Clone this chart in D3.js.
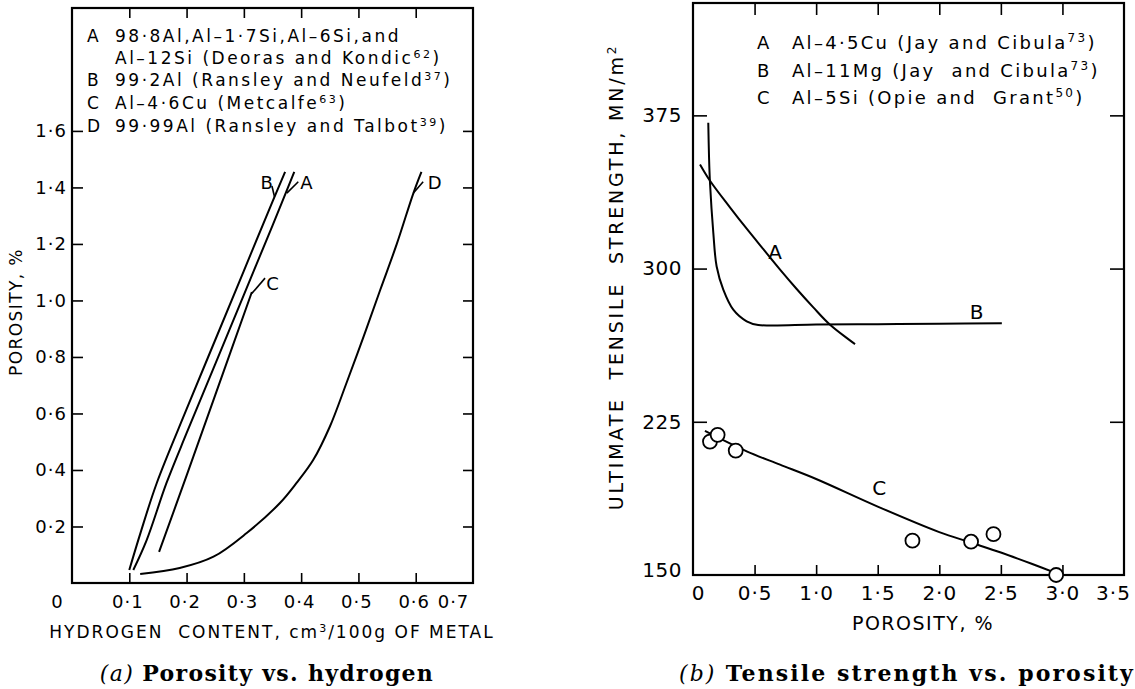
<!DOCTYPE html>
<html><head><meta charset="utf-8">
<script src="https://cdn.jsdelivr.net/npm/d3@7"></script>
<style>body{margin:0;background:#fff}</style>
</head><body>
<svg id="c" width="1135" height="689"></svg>
<script>
// ---------- Panel (a): porosity vs hydrogen ----------
const hA = [0.107, 0.130, 0.165, 0.200, 0.250, 0.300, 0.350, 0.388];
const pA = [0.046, 0.150, 0.354, 0.530, 0.775, 1.020, 1.265, 1.455];
const hB = [0.100, 0.120, 0.148, 0.200, 0.250, 0.300, 0.350, 0.372];
const pB = [0.046, 0.180, 0.354, 0.615, 0.860, 1.105, 1.350, 1.455];
const hC = [0.152, 0.200, 0.250, 0.314];
const pC = [0.110, 0.380, 0.665, 1.030];
const hD = [0.119, 0.188, 0.247, 0.305, 0.363, 0.392, 0.421, 0.450, 0.479, 0.509, 0.538, 0.567, 0.596, 0.610];
const pD = [0.032, 0.053, 0.093, 0.177, 0.283, 0.354, 0.435, 0.553, 0.707, 0.872, 1.037, 1.200, 1.380, 1.455];
const hTicks = [0, 0.1, 0.2, 0.3, 0.4, 0.5, 0.6, 0.7];
const porTicksA = [0.2, 0.4, 0.6, 0.8, 1.0, 1.2, 1.4, 1.6];
const legendA = [
  ["A", [["98·8Al,Al–1·7Si,Al–6Si,and"]]],
  ["", [["Al–12Si (Deoras and Kondic"], ["62", 1], [")"]]],
  ["B", [["99·2Al (Ransley and Neufeld"], ["37", 1], [")"]]],
  ["C", [["Al–4·6Cu (Metcalfe"], ["63", 1], [")"]]],
  ["D", [["99·99Al (Ransley and Talbot"], ["39", 1], [")"]]]
];
// curve labels: letter, label point, leader start, leader end (data units)
const labelsA = [
  ["B", [0.340, 1.415], [0.349, 1.405], [0.3535, 1.367]],
  ["A", [0.409, 1.415], [0.395, 1.420], [0.375, 1.380]],
  ["C", [0.350, 1.061], [0.337, 1.079], [0.314, 1.025]],
  ["D", [0.633, 1.415], [0.613, 1.420], [0.596, 1.380]]
];

// ---------- Panel (b): tensile strength vs porosity ----------
const porA = [0.057, 0.138, 0.300, 0.436, 0.571, 0.707, 0.842, 0.977, 1.113, 1.316];
const utsA = [351, 343, 330, 319.5, 309.5, 299.5, 290, 281, 272.5, 263];
const porB = [0.124, 0.130, 0.138, 0.165, 0.192, 0.246, 0.327, 0.436, 0.530, 1.000, 1.500, 2.000, 2.508];
const utsB = [371.4, 355, 342, 317.5, 301, 289.7, 279.9, 274.2, 272.4, 272.6, 272.8, 273.0, 273.2];
const porC = [0.097, 0.436, 0.707, 1.000, 1.500, 2.000, 2.250, 2.500, 2.750, 2.954];
const utsC = [220.5, 210.5, 204, 197, 183.5, 171, 166, 161, 155.5, 150.8];
const porPts = [0.138, 0.200, 0.347, 1.782, 2.258, 2.440, 2.949];
const utsPts = [215.3, 218.6, 210.9, 166.8, 166.3, 170.0, 150.0];
const porTicks = [0, 0.5, 1.0, 1.5, 2.0, 2.5, 3.0, 3.5];
const utsTicks = [150, 225, 300, 375];
const legendB = [
  ["A", [["Al–4·5Cu (Jay and Cibula"], ["73", 1], [")"]]],
  ["B", [["Al–11Mg (Jay  and Cibula"], ["73", 1], [")"]]],
  ["C", [["Al–5Si (Opie and  Grant"], ["50", 1], [")"]]]
];
const labelsB = [["A", [0.666, 308.2]], ["B", [2.304, 278.9]], ["C", [1.513, 192.4]]];

// ---------- drawing ----------
const svg = d3.select("#c");
const SANS = "'DejaVu Sans', sans-serif";
const SERIF = "'DejaVu Serif', serif";
const dot = d => d === 0 ? "0" : d3.format(".1f")(d).replace(".", "·");
const zip = (xs, ys) => xs.map((x, i) => [x, ys[i]]);

function richText(sel, parts, supSize) {
  parts.forEach(([t, sup]) => {
    const ts = sel.append("tspan").text(t);
    if (sup) ts.attr("font-size", supSize).attr("baseline-shift", "super");
  });
}

function styleAxis(g, fs, ls) {
  g.select(".domain").remove();
  g.selectAll(".tick line").attr("stroke", "#000").attr("stroke-width", 1.6);
  g.selectAll(".tick text").attr("fill", "#000").attr("font-family", SANS).attr("font-size", fs)
    .attr("letter-spacing", ls || 0);
}

// ===== Panel (a) =====
const xa = d3.scaleLinear().domain([0, 0.7]).range([72, 473]);
const ya = d3.scaleLinear().domain([0, 2.035]).range([583, 8]);
const ga = svg.append("g");
const inner = hTicks.filter(d => d > 0 && d < 0.7);

ga.append("g").attr("transform", "translate(0,583)")
  .call(d3.axisBottom(xa).tickValues(hTicks).tickFormat(dot).tickSizeInner(-10).tickSizeOuter(0).tickPadding(12))
  .call(g => styleAxis(g, 18, 1))
  .call(g => g.selectAll(".tick").filter(d => d === 0 || d === 0.7).select("line").remove())
  .call(g => g.selectAll(".tick text").attr("dx", d => d === 0 ? -15 : d === 0.7 ? -20 : -2));
ga.append("g").attr("transform", "translate(0,8)")
  .call(d3.axisTop(xa).tickValues(inner).tickFormat("").tickSizeInner(-10).tickSizeOuter(0))
  .call(g => styleAxis(g, 18));
ga.append("g").attr("transform", "translate(72,0)")
  .call(d3.axisLeft(ya).tickValues(porTicksA).tickFormat(dot).tickSizeInner(-11).tickSizeOuter(0).tickPadding(5))
  .call(g => styleAxis(g, 18, 1));
ga.append("g").attr("transform", "translate(473,0)")
  .call(d3.axisRight(ya).tickValues(porTicksA).tickFormat("").tickSizeInner(-10).tickSizeOuter(0))
  .call(g => styleAxis(g, 18));
ga.append("rect").attr("x", xa(0)).attr("y", ya(2.035)).attr("width", xa(0.7) - xa(0)).attr("height", ya(0) - ya(2.035))
  .attr("fill", "none").attr("stroke", "#000").attr("stroke-width", 2.2);

const lineA = d3.line().x(d => xa(d[0])).y(d => ya(d[1])).curve(d3.curveCatmullRom.alpha(0.5));
[[hA, pA], [hB, pB], [hC, pC], [hD, pD]].forEach(([xs, ys]) => {
  ga.append("path").attr("d", lineA(zip(xs, ys))).attr("fill", "none").attr("stroke", "#000").attr("stroke-width", 2);
});
labelsA.forEach(([t, p, s, e]) => {
  ga.append("line").attr("x1", xa(s[0])).attr("y1", ya(s[1])).attr("x2", xa(e[0])).attr("y2", ya(e[1]))
    .attr("stroke", "#000").attr("stroke-width", 1.6);
  ga.append("text").attr("x", xa(p[0])).attr("y", ya(p[1])).attr("dy", "0.35em").attr("text-anchor", "middle")
    .attr("font-family", SANS).attr("font-size", 18).text(t);
});
legendA.forEach(([k, parts], i) => {
  const y = [42, 64, 86, 109, 132][i];
  ga.append("text").attr("x", 87).attr("y", y).attr("font-family", SANS).attr("font-size", 17).text(k);
  const t = ga.append("text").attr("x", 115).attr("y", y).attr("font-family", SANS).attr("font-size", 17)
    .attr("letter-spacing", 2.5);
  richText(t, parts, 11);
});
ga.append("text").attr("transform", "translate(22,312) rotate(-90)").attr("text-anchor", "middle")
  .attr("font-family", SANS).attr("font-size", 17).attr("letter-spacing", 1.4).text("POROSITY, %");
{
  const t = ga.append("text").attr("x", 272).attr("y", 638).attr("text-anchor", "middle")
    .attr("font-family", SANS).attr("font-size", 17).attr("letter-spacing", 2).attr("xml:space", "preserve");
  richText(t, [["HYDROGEN  CONTENT, cm"], ["3", 1], ["/100g OF METAL"]], 11);
}
{
  const t = ga.append("text").attr("x", 267).attr("y", 681).attr("text-anchor", "middle").attr("font-family", SERIF)
    .attr("font-size", 22).attr("letter-spacing", 1.3);
  t.append("tspan").attr("font-style", "italic").text("(a) ");
  t.append("tspan").attr("font-weight", "bold").text("Porosity vs. hydrogen");
}

// ===== Panel (b) =====
const xb = d3.scaleLinear().domain([0, 3.5]).range([693, 1124]);
const yb = d3.scaleLinear().domain([150, 430]).range([575, 3]);
const gb = svg.append("g");
const innerP = porTicks.filter(d => d > 0 && d < 3.5);
const innerU = utsTicks.filter(d => d > 150);

gb.append("g").attr("transform", "translate(0,575)")
  .call(d3.axisBottom(xb).tickValues(porTicks).tickFormat(dot).tickSizeInner(-10).tickSizeOuter(0).tickPadding(11))
  .call(g => styleAxis(g, 20, 1))
  .call(g => g.selectAll(".tick").filter(d => d === 0 || d === 3.5).select("line").remove())
  .call(g => g.selectAll(".tick text").attr("dx", d => d === 0 ? 5 : d === 3.5 ? -11 : 0));
gb.append("g").attr("transform", "translate(0,3)")
  .call(d3.axisTop(xb).tickValues(innerP).tickFormat("").tickSizeInner(-12).tickSizeOuter(0))
  .call(g => styleAxis(g, 20));
gb.append("g").attr("transform", "translate(693,0)")
  .call(d3.axisLeft(yb).tickValues(utsTicks).tickFormat(d3.format("d")).tickSizeInner(-14).tickSizeOuter(0).tickPadding(11))
  .call(g => styleAxis(g, 20, 0.5))
  .call(g => g.selectAll(".tick").filter(d => d === 150).select("line").remove())
  .call(g => g.selectAll(".tick text").attr("y", d => d === 150 ? -5 : 0));
gb.append("g").attr("transform", "translate(1124,0)")
  .call(d3.axisRight(yb).tickValues(innerU).tickFormat("").tickSizeInner(-14).tickSizeOuter(0))
  .call(g => styleAxis(g, 20));
gb.append("rect").attr("x", xb(0)).attr("y", yb(430)).attr("width", xb(3.5) - xb(0)).attr("height", yb(150) - yb(430))
  .attr("fill", "none").attr("stroke", "#000").attr("stroke-width", 2.2);

const lineB = d3.line().x(d => xb(d[0])).y(d => yb(d[1])).curve(d3.curveCatmullRom.alpha(0.5));
[[porA, utsA], [porB, utsB], [porC, utsC]].forEach(([xs, ys]) => {
  gb.append("path").attr("d", lineB(zip(xs, ys))).attr("fill", "none").attr("stroke", "#000").attr("stroke-width", 2);
});
gb.selectAll("circle.pt").data(zip(porPts, utsPts)).join("circle").attr("class", "pt")
  .attr("cx", d => xb(d[0])).attr("cy", d => yb(d[1])).attr("r", 7)
  .attr("fill", "#fff").attr("stroke", "#000").attr("stroke-width", 1.8);
labelsB.forEach(([t, p]) => {
  gb.append("text").attr("x", xb(p[0])).attr("y", yb(p[1])).attr("dy", "0.35em").attr("text-anchor", "middle")
    .attr("font-family", SANS).attr("font-size", 20).text(t);
});
legendB.forEach(([k, parts], i) => {
  const y = [49, 77, 104][i];
  gb.append("text").attr("x", 757).attr("y", y).attr("font-family", SANS).attr("font-size", 18).text(k);
  const t = gb.append("text").attr("x", 792).attr("y", y).attr("font-family", SANS).attr("font-size", 18)
    .attr("letter-spacing", 2.3).attr("xml:space", "preserve");
  richText(t, parts, 12);
});
{
  const t = gb.append("text").attr("transform", "translate(623,277) rotate(-90)").attr("text-anchor", "middle")
    .attr("font-family", SANS).attr("font-size", 19).attr("letter-spacing", 2.8).attr("xml:space", "preserve");
  richText(t, [["ULTIMATE  TENSILE  STRENGTH, MN/m"], ["2", 1]], 12);
}
gb.append("text").attr("x", 923).attr("y", 630).attr("text-anchor", "middle")
  .attr("font-family", SANS).attr("font-size", 19).attr("letter-spacing", 1.5).text("POROSITY, %");
{
  const t = gb.append("text").attr("x", 907).attr("y", 681).attr("text-anchor", "middle").attr("font-family", SERIF)
    .attr("font-size", 22).attr("letter-spacing", 2.1);
  t.append("tspan").attr("font-style", "italic").text("(b) ");
  t.append("tspan").attr("font-weight", "bold").text("Tensile strength vs. porosity");
}
</script>
</body></html>
